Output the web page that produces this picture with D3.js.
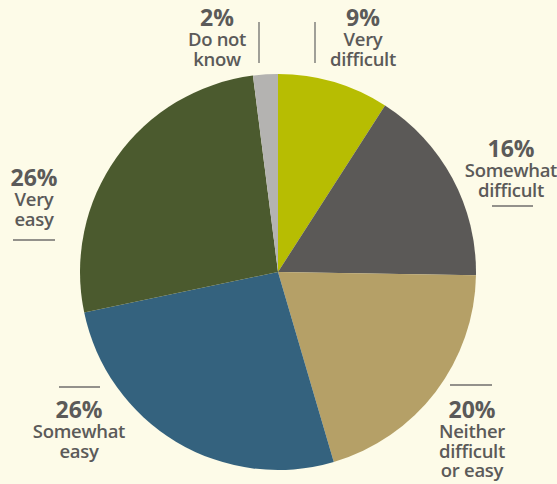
<!DOCTYPE html>
<html>
<head>
<meta charset="utf-8">
<script src="https://cdn.jsdelivr.net/npm/d3@7"></script>
<style>
  html, body { margin: 0; padding: 0; background: #fdfbe8; }
  svg { display: block; }
  text { font-family: "Open Sans", "DejaVu Sans", sans-serif; fill: #5b5a59; }
</style>
</head>
<body>
<svg id="chart" width="557" height="484"></svg>
<script>
// Survey answers, clockwise from 12 o'clock
const categories = ["Very difficult", "Somewhat difficult", "Neither difficult or easy",
                    "Somewhat easy", "Very easy", "Do not know"];
const values = [9, 16, 20, 26, 26, 2];
const colors = ["#b7bd02", "#5b5957", "#b5a067", "#34627e", "#4b5a2e", "#b4b3b1"];

// Label text lines under each percentage
const labelLines = [
  ["Very", "difficult"],
  ["Somewhat", "difficult"],
  ["Neither", "difficult", "or easy"],
  ["Somewhat", "easy"],
  ["Very", "easy"],
  ["Do not", "know"]
];

// Label placement: centre x, baseline of the percentage, rule geometry
const labelLayout = [
  { x: 363, y: 26,  rule: { x1: 315, y1: 22, x2: 315, y2: 63 } },
  { x: 511, y: 157, rule: { x1: 492, y1: 206, x2: 533, y2: 206 } },
  { x: 472, y: 418, rule: { x1: 450, y1: 385, x2: 492, y2: 385 } },
  { x: 79,  y: 418, rule: { x1: 59,  y1: 387, x2: 100, y2: 387 } },
  { x: 34,  y: 186, rule: { x1: 13,  y1: 240, x2: 55,  y2: 240 } },
  { x: 217, y: 26,  rule: { x1: 259, y1: 22, x2: 259, y2: 63 } }
];

const svg = d3.select("#chart");
const cx = 278, cy = 272, radius = 198;

const pie = d3.pie().sort(null).value(d => d.value);
const arc = d3.arc().innerRadius(0).outerRadius(radius);

const data = categories.map((c, i) => ({ category: c, value: values[i], color: colors[i] }));

svg.append("g")
  .attr("transform", `translate(${cx},${cy})`)
  .selectAll("path")
  .data(pie(data))
  .join("path")
  .attr("d", arc)
  .attr("fill", d => d.data.color);

const labels = svg.append("g").selectAll("g")
  .data(data)
  .join("g");

labels.append("line")
  .attr("x1", (d, i) => labelLayout[i].rule.x1)
  .attr("y1", (d, i) => labelLayout[i].rule.y1)
  .attr("x2", (d, i) => labelLayout[i].rule.x2)
  .attr("y2", (d, i) => labelLayout[i].rule.y2)
  .attr("stroke", "#6f6e6c")
  .attr("stroke-width", 1.3);

// One text block per label: bold percentage followed by the answer lines
labels.each(function (d, i) {
  const L = labelLayout[i];
  const t = d3.select(this).append("text")
    .attr("x", L.x)
    .attr("y", L.y)
    .attr("text-anchor", "middle");

  t.append("tspan")
    .attr("x", L.x)
    .attr("y", L.y)
    .style("font-size", "23px")
    .style("font-weight", 700)
    .text(`${d.value}%`);

  labelLines[i].forEach((line, k) => {
    t.append("tspan")
      .attr("x", L.x)
      .attr("y", L.y + 20 + k * 19.5)
      .style("font-size", "18.5px")
      .style("font-weight", 600)
      .style("letter-spacing", "-0.3px")
      .text(line);
  });
});
</script>
</body>
</html>
